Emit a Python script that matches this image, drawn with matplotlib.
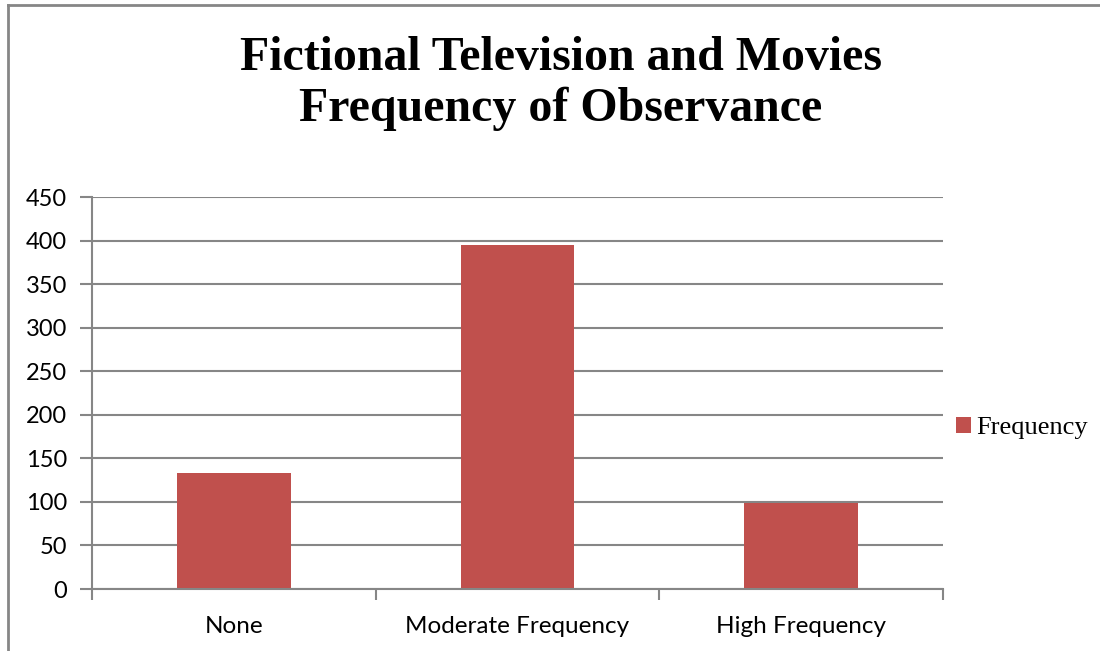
import matplotlib
matplotlib.use("Agg")
import matplotlib.pyplot as plt
from matplotlib.lines import Line2D

# data
categories = ["None", "Moderate Frequency", "High Frequency"]
frequency = [133, 395, 99]
series_name = "Frequency"
title = "Fictional Television and Movies\nFrequency of Observance"
y_ticks = [0, 50, 100, 150, 200, 250, 300, 350, 400, 450]

W, H = 1100, 651
fig = plt.figure(figsize=(W / 100, H / 100), dpi=100)

# plot area in pixel terms of the reference
left, right, bottom, top = 92, 943, 589, 197
ax = fig.add_axes([left / W, 1 - bottom / H, (right - left) / W, (bottom - top) / H])

grey = "#868686"
bar_color = "#C0504D"
tick_font = "Lato"
serif_font = "Liberation Serif"

x = list(range(len(categories)))
ax.bar(x, frequency, width=0.4, color=bar_color, label=series_name, zorder=2)

ax.set_xlim(-0.5, len(categories) - 0.5)
ax.set_ylim(0, 450)
ax.set_yticks(y_ticks)
ax.yaxis.grid(True, color=grey, linewidth=1.5, zorder=1)
ax.set_axisbelow(True)

# category labels at bar centres, ticks at category boundaries
ax.set_xticks(x)
ax.set_xticklabels(categories, fontfamily=tick_font, fontsize=17.5)
ax.tick_params(axis="x", which="major", length=0, pad=19.5)
ax.set_xticks([i - 0.5 for i in range(len(categories) + 1)], minor=True)
ax.tick_params(axis="x", which="minor", length=8, width=1.5, color=grey, direction="out")

ax.tick_params(axis="y", length=9, width=1.5, color=grey, pad=9)
for lab in ax.get_yticklabels():
    lab.set_fontfamily(tick_font)
    lab.set_fontsize(17)

for side in ["top", "right"]:
    ax.spines[side].set_visible(False)
for side in ["left", "bottom"]:
    ax.spines[side].set_color(grey)
    ax.spines[side].set_linewidth(1.5)
    ax.spines[side].set_zorder(3)

# title
fig.text(561 / W, 1 - 36 / H, title, ha="center", va="top",
         fontfamily=serif_font, fontweight="bold", fontsize=34.5, linespacing=1.2)

# legend on the right
ax.legend(loc="center left", bbox_to_anchor=(943 / W, 1 - 428 / H),
          bbox_transform=fig.transFigure, frameon=False, borderpad=0,
          handlelength=0.55, handleheight=0.55, handletextpad=0.2,
          prop={"family": serif_font, "size": 19})

# outer chart border (top and left visible in reference)
fig.add_artist(Line2D([8 / W, 8 / W], [0, 1 - 5 / H], color=grey, linewidth=2, transform=fig.transFigure))
fig.add_artist(Line2D([8 / W, 1], [1 - 5 / H, 1 - 5 / H], color=grey, linewidth=2, transform=fig.transFigure))

fig.savefig("out.png", dpi=100, facecolor="white")
